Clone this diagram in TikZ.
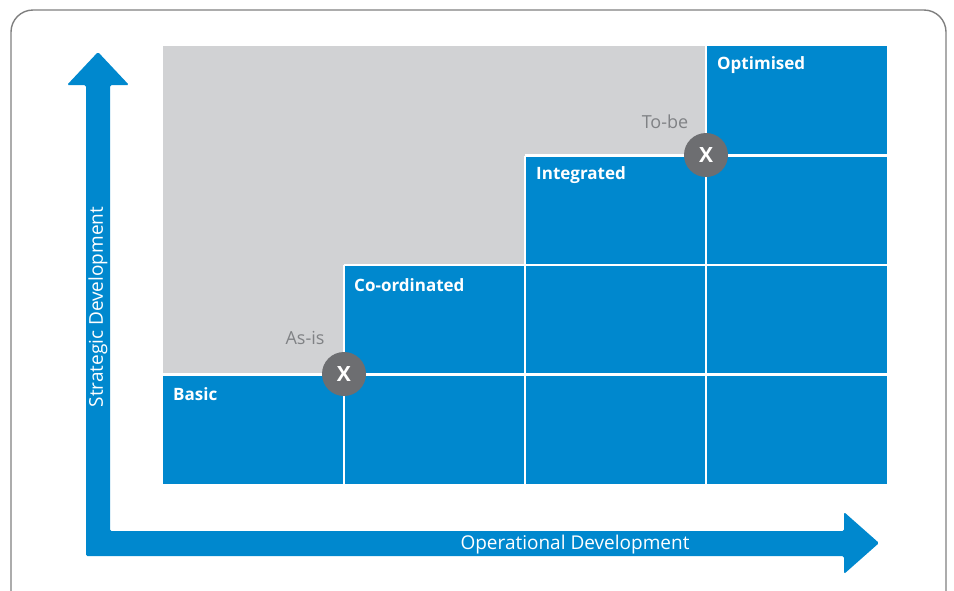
\documentclass[tikz,border=0pt]{standalone}
\usepackage{fontspec}
\setmainfont{Open Sans}
\definecolor{stepblue}{HTML}{0088CE}
\definecolor{paneGray}{HTML}{D1D2D4}
\definecolor{markGray}{HTML}{6D6E71}
\definecolor{noteGray}{HTML}{808285}
\definecolor{frameGray}{HTML}{7F7F7F}
\tikzset{
  cell/.style={fill=stepblue, minimum width=181pt, minimum height=109.5pt,
    inner sep=0pt, outer sep=0pt, anchor=north west},
  divider/.style={white, line width=2.5pt},
  celltext/.style={text=white, font=\bfseries\fontsize{17}{19}\selectfont, anchor=west, inner sep=0pt},
  marker/.style={circle, fill=markGray, minimum size=44pt, inner sep=0pt,
    text=white, font=\bfseries\fontsize{21}{22}\selectfont},
  note/.style={text=noteGray, font=\fontsize{18}{20}\selectfont, inner sep=0pt},
  axistext/.style={text=white, font=\fontsize{19}{21}\selectfont, inner sep=0pt}
}
\begin{document}
\begin{tikzpicture}[x=1pt, y=-1pt]
\useasboundingbox (0,0) rectangle (954,590);
% outer frame
\draw[frameGray, line width=1.4pt, rounded corners=22pt] (11,10) rectangle (946,620);
% grey backdrop of the staircase
\fill[paneGray] (163,46) rectangle (706,484);
% blue cells: column c holds rows from the step level down
\foreach \c in {1,...,4}{
  \foreach \r in {1,...,4}{
    \pgfmathtruncatemacro{\top}{5-\c}
    \ifnum\r<\top\relax\else
      \node[cell] (c\c r\r) at ({163+(\c-1)*181}, {46+(\r-1)*109.5}) {};
    \fi
  }
}
% white dividers between the cells
\draw[divider] (c2r3.north west) -- (c2r4.south west);
\draw[divider] (c3r2.north west) -- (c3r4.south west);
\draw[divider] (c4r1.north west) -- (c4r4.south west);
\draw[divider] (c1r4.north west) -- (c4r4.north east);
\draw[divider] (c2r3.north west) -- (c4r3.north east);
\draw[divider] (c3r2.north west) -- (c4r2.north east);
% level labels
\node[celltext] (basic) at (173,394) {Basic};
\node[celltext] (coord) at (354,285) {Co-ordinated};
\node[celltext] (integ) at (536,175) {Integrated};
\node[celltext] (optim) at (717,65) {Optimised};
% axes as one L-shaped double arrow
\fill[stepblue, rounded corners=1.5pt]
  (98,52) -- (129,85) -- (110,85) -- (110,531) -- (844,531) -- (844,512)
  -- (879,543) -- (844,574) -- (844,556) -- (86,556) -- (86,85) -- (67,85) -- cycle;
\node[axistext, rotate=90] (strat) at (98,307) {Strategic Development};
\node[axistext] (oper) at (575,544.5) {Operational Development};
% current and target positions
\node[marker] (asis) at (344,374) {X};
\node[marker] (tobe) at (706,155) {X};
\node[note] (asislbl) at (305,338) {As-is};
\node[note] (tobelbl) at (665,122) {To-be};
\end{tikzpicture}
\end{document}
